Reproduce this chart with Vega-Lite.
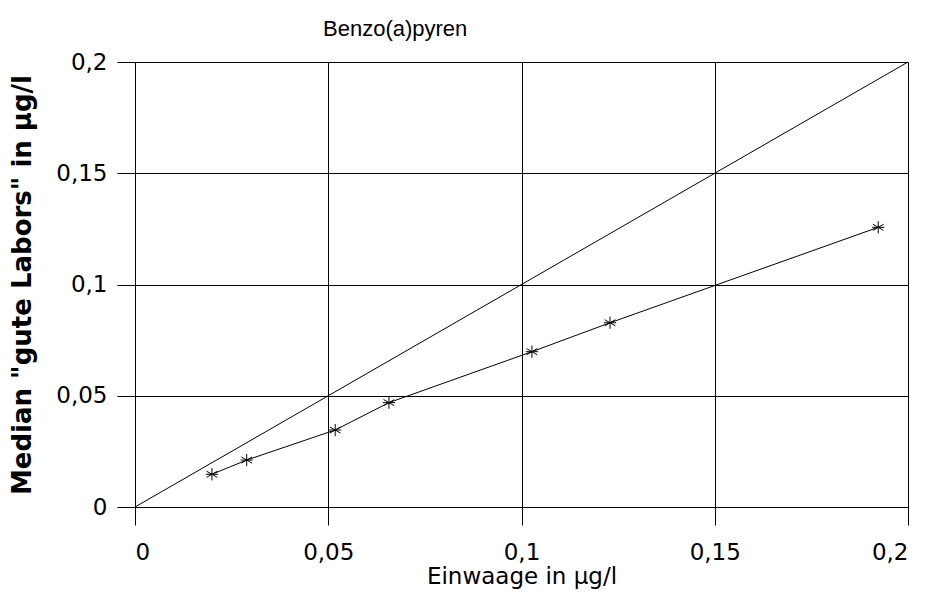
{
  "$schema": "https://vega.github.io/schema/vega-lite/v6.json",
  "width": 773,
  "height": 445,
  "autosize": {"type": "none"},
  "padding": {"left": 135, "top": 62, "right": 25, "bottom": 105},
  "background": "white",
  "title": {
    "text": "Benzo(a)pyren",
    "anchor": "start",
    "frame": "group",
    "dx": 188,
    "offset": 10,
    "font": "Liberation Sans",
    "fontSize": 22,
    "fontWeight": "normal",
    "color": "#000"
  },
  "config": {
    "view": {"stroke": null},
    "axis": {
      "domainColor": "#000",
      "gridColor": "#000",
      "gridOpacity": 1,
      "tickColor": "#000",
      "labelFont": "DejaVu Sans",
      "labelFontSize": 23,
      "labelColor": "#000",
      "titleFont": "DejaVu Sans",
      "titleColor": "#000"
    }
  },
  "datasets": {
    "median": [
      {"x": 0.0199, "y": 0.0147},
      {"x": 0.0289, "y": 0.0211},
      {"x": 0.0518, "y": 0.0346},
      {"x": 0.0657, "y": 0.0469},
      {"x": 0.1027, "y": 0.0698},
      {"x": 0.1229, "y": 0.0828},
      {"x": 0.1923, "y": 0.1257}
    ],
    "ideal": [
      {"x": 0, "y": 0},
      {"x": 0.2, "y": 0.2}
    ]
  },
  "layer": [
    {
      "data": {"name": "ideal"},
      "mark": {"type": "line", "color": "#000", "strokeWidth": 1},
      "encoding": {
        "x": {
          "field": "x", "type": "quantitative",
          "scale": {"domain": [0, 0.2], "nice": false},
          "axis": {
            "values": [0, 0.05, 0.1, 0.15, 0.2],
            "labelExpr": "replace(toString(datum.value), '.', ',')",
            "tickSize": 18,
            "labelPadding": 16,
            "title": "Einwaage in µg/l",
            "titleFontSize": 23,
            "titleFontWeight": "normal",
            "titlePadding": 1,
            "grid": true
          }
        },
        "y": {
          "field": "y", "type": "quantitative",
          "scale": {"domain": [0, 0.2], "nice": false},
          "axis": {
            "values": [0, 0.05, 0.1, 0.15, 0.2],
            "labelExpr": "replace(toString(datum.value), '.', ',')",
            "tickSize": 18,
            "labelPadding": 10,
            "title": "Median \"gute Labors\" in µg/l",
            "titleFontSize": 26,
            "titleFontWeight": "bold",
            "titlePadding": 20,
            "grid": true
          }
        }
      }
    },
    {
      "data": {"name": "median"},
      "mark": {"type": "line", "color": "#000", "strokeWidth": 1},
      "encoding": {
        "x": {"field": "x", "type": "quantitative"},
        "y": {"field": "y", "type": "quantitative"}
      }
    },
    {
      "data": {"name": "median"},
      "mark": {
        "type": "point",
        "shape": "M0,-1L0,1M-0.87,-0.5L0.87,0.5M-0.87,0.5L0.87,-0.5M-1,0L1,0",
        "size": 150,
        "color": "#000",
        "strokeWidth": 1,
        "filled": false,
        "opacity": 1
      },
      "encoding": {
        "x": {"field": "x", "type": "quantitative"},
        "y": {"field": "y", "type": "quantitative"}
      }
    }
  ]
}
